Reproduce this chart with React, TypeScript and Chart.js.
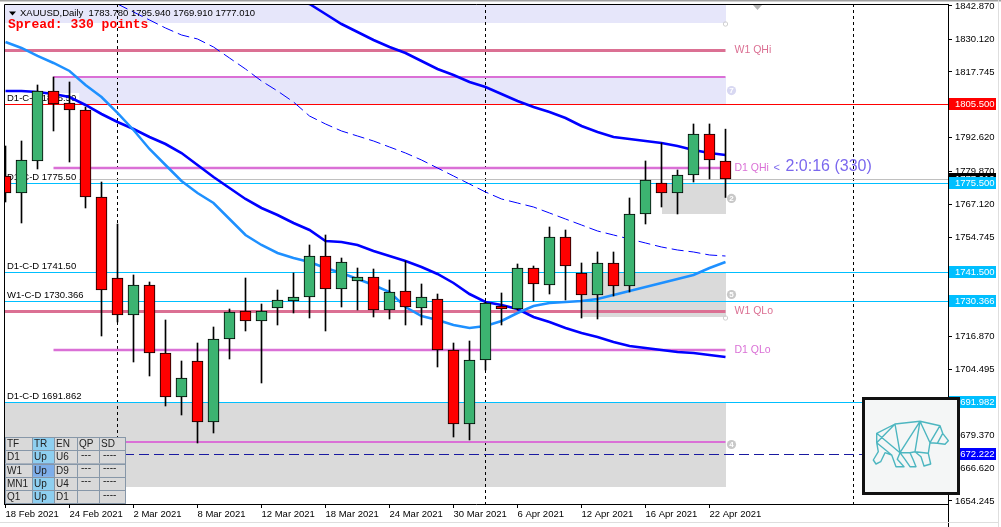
import React, { useEffect, useRef } from "react";
import { Chart, registerables } from "chart.js";

Chart.register(...registerables);

// ---------- DATA ----------
const tradingDays = [
  "18 Feb 2021", "19 Feb 2021", "22 Feb 2021", "23 Feb 2021", "24 Feb 2021", "25 Feb 2021", "26 Feb 2021",
  "1 Mar 2021", "2 Mar 2021", "3 Mar 2021", "4 Mar 2021", "5 Mar 2021", "8 Mar 2021", "9 Mar 2021",
  "10 Mar 2021", "11 Mar 2021", "12 Mar 2021", "15 Mar 2021", "16 Mar 2021", "17 Mar 2021", "18 Mar 2021",
  "19 Mar 2021", "22 Mar 2021", "23 Mar 2021", "24 Mar 2021", "25 Mar 2021", "26 Mar 2021", "29 Mar 2021",
  "30 Mar 2021", "31 Mar 2021", "1 Apr 2021", "5 Apr 2021", "6 Apr 2021", "7 Apr 2021", "8 Apr 2021",
  "9 Apr 2021", "12 Apr 2021", "13 Apr 2021", "14 Apr 2021", "15 Apr 2021", "16 Apr 2021", "19 Apr 2021",
  "20 Apr 2021", "21 Apr 2021", "22 Apr 2021", "23 Apr 2021",
];

const opens = [1778.09, 1771.61, 1783.81, 1810.48, 1805.91, 1803.24, 1770.09, 1739.22, 1725.12, 1736.55, 1710.64, 1693.88, 1707.59, 1684.35, 1715.98, 1726.65, 1722.84, 1727.79, 1730.46, 1731.98, 1747.6, 1735.03, 1738.08, 1739.6, 1727.03, 1734.27, 1727.79, 1731.22, 1711.79, 1683.59, 1707.97, 1728.55, 1727.41, 1743.03, 1736.55, 1754.85, 1741.13, 1732.74, 1744.94, 1736.17, 1763.61, 1775.42, 1771.61, 1778.47, 1794.09, 1783.78];
const highs = [1789.52, 1791.43, 1812.77, 1815.81, 1813.91, 1804.38, 1775.8, 1759.8, 1740.37, 1737.7, 1723.22, 1707.59, 1714.45, 1720.55, 1727.41, 1739.22, 1729.31, 1734.65, 1741.13, 1751.8, 1755.61, 1746.84, 1743.03, 1742.65, 1738.46, 1745.7, 1736.94, 1733.12, 1714.45, 1715.21, 1730.08, 1733.51, 1744.56, 1743.79, 1758.66, 1757.51, 1744.94, 1749.13, 1749.13, 1769.71, 1783.81, 1790.66, 1780.38, 1797.91, 1797.91, 1795.94];
const lows = [1768.18, 1760.18, 1780.76, 1795.24, 1783.42, 1765.9, 1717.12, 1722.46, 1707.21, 1701.88, 1690.45, 1687.02, 1676.35, 1680.16, 1708.36, 1719.03, 1699.21, 1721.31, 1725.88, 1723.98, 1719.03, 1728.17, 1727.03, 1724.36, 1723.6, 1721.31, 1721.31, 1705.31, 1678.63, 1677.49, 1704.16, 1721.31, 1727.03, 1730.46, 1733.12, 1730.84, 1723.98, 1723.6, 1732.36, 1733.89, 1759.8, 1766.28, 1763.61, 1775.8, 1776.95, 1769.91];
const closes = [1771.61, 1784.19, 1810.48, 1805.53, 1803.24, 1770.09, 1734.65, 1725.12, 1736.55, 1710.64, 1693.88, 1701.12, 1684.35, 1715.98, 1726.27, 1722.84, 1726.65, 1730.84, 1731.98, 1747.6, 1735.03, 1745.32, 1739.6, 1727.03, 1733.89, 1728.17, 1731.98, 1711.79, 1683.59, 1707.97, 1729.7, 1727.41, 1743.03, 1736.94, 1754.85, 1743.79, 1732.74, 1744.94, 1736.17, 1763.61, 1776.57, 1771.61, 1778.47, 1794.09, 1784.19, 1777.01];

// moving averages (null = not in view)
const maUpper = [null, null, null, null, null, null, null, null, null, null, null, null, null, null, null, null, 1855.06, 1850.87, 1847.06, 1843.63, 1839.82, 1836.01, 1832.96, 1829.91, 1827.25, 1824.96, 1821.91, 1818.86, 1816.58, 1813.91, 1812.0, 1809.34, 1806.67, 1804.38, 1802.48, 1800.19, 1797.14, 1794.86, 1792.95, 1792.19, 1791.43, 1790.66, 1789.52, 1787.99, 1786.85, 1786.09];
const maLower = [1810.48, 1810.48, 1810.1, 1809.34, 1808.19, 1805.15, 1801.72, 1798.67, 1796.0, 1792.95, 1790.28, 1786.85, 1782.28, 1777.71, 1773.52, 1769.33, 1765.9, 1763.23, 1760.18, 1757.51, 1753.32, 1752.94, 1751.8, 1749.51, 1747.6, 1745.7, 1743.41, 1740.75, 1737.32, 1733.12, 1730.08, 1728.93, 1727.41, 1724.36, 1722.46, 1720.17, 1718.26, 1716.74, 1714.83, 1713.31, 1712.55, 1711.79, 1711.03, 1710.64, 1709.88, 1709.12];
const maFast = [1829.15, 1826.87, 1823.82, 1821.15, 1818.1, 1812.77, 1808.19, 1802.1, 1795.62, 1788.38, 1782.28, 1776.18, 1771.61, 1767.8, 1761.7, 1755.61, 1751.8, 1748.75, 1746.84, 1745.32, 1743.03, 1741.13, 1738.84, 1736.55, 1733.89, 1728.17, 1724.74, 1723.22, 1721.31, 1720.17, 1720.93, 1722.84, 1725.88, 1728.55, 1729.7, 1730.08, 1730.46, 1731.22, 1732.74, 1734.27, 1735.79, 1737.32, 1738.84, 1740.37, 1743.03, 1745.32];
const maLong = [null, null, null, null, null, null, 1846.68, 1843.63, 1840.58, 1837.54, 1834.49, 1831.82, 1830.3, 1827.25, 1823.05, 1818.86, 1814.29, 1810.48, 1806.29, 1800.95, 1797.91, 1795.24, 1793.33, 1791.43, 1789.14, 1786.85, 1784.19, 1781.14, 1778.09, 1775.04, 1771.99, 1769.33, 1767.8, 1766.28, 1763.99, 1761.7, 1759.42, 1757.13, 1755.61, 1754.08, 1752.56, 1751.03, 1749.89, 1749.13, 1747.99, 1747.6];

const xTickIndex = [0, 4, 8, 12, 16, 20, 24, 28, 32, 36, 40, 44];
const yTickValues = [1842.87, 1830.12, 1817.745, 1805.37, 1792.62, 1779.87, 1767.12, 1754.745, 1742.12, 1729.62, 1716.87, 1704.495, 1691.745, 1679.37, 1666.62, 1654.245];
const yMin = 1653.1;
const yMax = 1843.63;

// zones (bar index range, price range)
const zoneFrom = [-1, 3, 41, 36, -1];
const zoneTo = [45, 45, 45, 45, 45];
const zoneHi = [1850, 1815.81, 1775.5, 1741.5, 1691.982];
const zoneLo = [1836.39, 1805.5, 1763.61, 1724.36, 1659.58];
const zoneTag = ["", "7", "2", "5", "4"];
const zoneKind = ["lav", "lav", "gray", "gray", "gray"];

// quarter levels
const qNames = ["W1 QHi", "", "D1 QHi", "W1 QLo", "D1 QLo", ""];
const qValues = [1826.1, 1815.81, 1781.14, 1726.65, 1711.79, 1676.73];
const qFrom = [-1, 3, 3, -1, 3, 3];
const qTf = ["W1", "D1", "D1", "W1", "D1", "D1"];

// C-D levels
const cdValues = [1805.5, 1775.5, 1741.5, 1730.366, 1691.982];
const cdLabels = ["D1-C-D 1805.50", "D1-C-D 1775.50", "D1-C-D 1741.50", "W1-C-D 1730.366", "D1-C-D 1691.862"];
const bidPrice = 1777.01;
const dashedLevel = 1672.222;
const separatorIndex = [7, 30, 53];

const headerText = "XAUUSD,Daily  1783.780 1795.940 1769.910 1777.010";
const spreadText = "Spread: 330 points";
const countdownText = "2:0:16 (330)";

const tableRows = [
  ["TF", "TR", "EN", "QP", "SD"],
  ["D1", "Up", "U6", "---", "----"],
  ["W1", "Up", "D9", "---", "----"],
  ["MN1", "Up", "U4", "---", "----"],
  ["Q1", "Up", "D1", "", "----"],
];

const FONT = '"Liberation Sans", Arial, sans-serif';

const overlay = {
  id: "mt4overlay",
  beforeDatasetsDraw(chart: any) {
    const { ctx, chartArea: a, scales } = chart;
    const X = (v: number) => scales.x.getPixelForValue(v);
    const Y = (v: number) => scales.y.getPixelForValue(v);
    ctx.save();
    ctx.beginPath();
    ctx.rect(a.left, a.top, a.right - a.left, a.bottom - a.top);
    ctx.clip();

    // zones
    for (let i = 0; i < zoneHi.length; i++) {
      const x0 = zoneFrom[i] < 0 ? a.left : X(zoneFrom[i]);
      const x1 = X(zoneTo[i]);
      const y0 = Math.round(Y(zoneHi[i]));
      const y1 = Math.round(Y(zoneLo[i]));
      ctx.fillStyle = zoneKind[i] === "lav" ? "#e6e6fa" : "#dadada";
      ctx.fillRect(Math.round(x0), y0, Math.round(x1) - Math.round(x0), y1 - y0);
    }

    // vertical separators
    ctx.strokeStyle = "#000";
    ctx.lineWidth = 1;
    ctx.setLineDash([3, 3]);
    for (const s of separatorIndex) {
      const x = Math.floor(X(s)) + 0.5;
      ctx.beginPath();
      ctx.moveTo(x, a.top);
      ctx.lineTo(x, a.bottom);
      ctx.stroke();
    }
    ctx.setLineDash([]);

    // bid line
    const hl = (v: number, color: string, x0: number, x1: number, w = 1, dash: number[] = []) => {
      const y = w % 2 === 1 ? Math.round(Y(v)) + 0.5 : Math.round(Y(v));
      ctx.strokeStyle = color;
      ctx.lineWidth = w;
      ctx.setLineDash(dash);
      ctx.beginPath();
      ctx.moveTo(x0, y);
      ctx.lineTo(x1, y);
      ctx.stroke();
      ctx.setLineDash([]);
    };
    hl(bidPrice, "#c0c0c0", a.left, a.right);
    hl(dashedLevel, "#1a1aa0", a.left, a.right, 1, [10, 5]);

    // quarter lines
    for (let i = 0; i < qValues.length; i++) {
      const color = qTf[i] === "W1" ? "#db7093" : "#da70d6";
      const w = qTf[i] === "W1" ? 3 : qNames[i] ? 2.6 : 2;
      const x0 = qFrom[i] < 0 ? a.left : X(qFrom[i]);
      hl(qValues[i], color, x0, X(45), w);
    }

    // C-D lines
    for (let i = 0; i < cdValues.length; i++) {
      hl(cdValues[i], i === 0 ? "#ff0000" : "#00bfff", a.left, a.right);
    }

    // left labels
    ctx.font = "9.5px " + FONT;
    ctx.textBaseline = "middle";
    for (let i = 0; i < cdValues.length; i++) {
      const y = Math.round(Y(cdValues[i]));
      const w = ctx.measureText(cdLabels[i]).width;
      ctx.fillStyle = "#ffffff";
      ctx.fillRect(a.left + 2, y - 11, w + 4, 10);
      ctx.fillStyle = "#000";
      ctx.fillText(cdLabels[i], a.left + 3, y - 5.5);
    }
    ctx.restore();
  },
  afterDatasetsDraw(chart: any) {
    const { ctx, chartArea: a, scales } = chart;
    const X = (v: number) => scales.x.getPixelForValue(v);
    const Y = (v: number) => scales.y.getPixelForValue(v);
    ctx.save();
    ctx.beginPath();
    ctx.rect(a.left, a.top, a.right - a.left, a.bottom - a.top);
    ctx.clip();
    const xEnd = X(45);

    // zone markers
    for (let i = 0; i < zoneHi.length; i++) {
      const yc = (Y(zoneHi[i]) + Y(zoneLo[i])) / 2;
      if (zoneTag[i]) {
        ctx.fillStyle = zoneKind[i] === "lav" ? "#d8d8f2" : "#c8c8c8";
        ctx.beginPath();
        ctx.arc(xEnd + 6, yc, 4.6, 0, Math.PI * 2);
        ctx.fill();
        ctx.fillStyle = "#fff";
        ctx.font = "bold 8px " + FONT;
        ctx.textAlign = "center";
        ctx.textBaseline = "middle";
        ctx.fillText(zoneTag[i], xEnd + 6, yc + 0.5);
        ctx.textAlign = "left";
      }
    }
    // small hollow corner circles
    ctx.strokeStyle = "#d0d0d0";
    ctx.lineWidth = 1;
    for (const v of [zoneLo[0], zoneLo[3]]) {
      ctx.beginPath();
      ctx.arc(xEnd, Y(v) + 1, 2.2, 0, Math.PI * 2);
      ctx.stroke();
    }

    // right quarter labels
    ctx.font = "10.5px " + FONT;
    ctx.textBaseline = "middle";
    for (let i = 0; i < qValues.length; i++) {
      if (!qNames[i]) continue;
      ctx.fillStyle = qTf[i] === "W1" ? "#db7093" : "#da70d6";
      ctx.fillText(qNames[i], xEnd + 9, Y(qValues[i]) + 0.5);
    }
    // countdown
    ctx.fillStyle = "#7b68ee";
    ctx.font = "11px " + FONT;
    ctx.fillText("<", xEnd + 48, Y(qValues[2]));
    ctx.font = "16px " + FONT;
    ctx.fillText(countdownText, xEnd + 60, Y(qValues[2]) - 1.5);

    // shift marker
    ctx.fillStyle = "#b4b4b4";
    const tx = X(47);
    ctx.beginPath();
    ctx.moveTo(tx - 4.5, a.top + 1);
    ctx.lineTo(tx + 4.5, a.top + 1);
    ctx.lineTo(tx, a.top + 6);
    ctx.fill();

    // header
    ctx.fillStyle = "#000";
    ctx.beginPath();
    ctx.moveTo(a.left + 5, a.top + 7.5);
    ctx.lineTo(a.left + 12, a.top + 7.5);
    ctx.lineTo(a.left + 8.5, a.top + 11.5);
    ctx.fill();
    ctx.font = "9.5px " + FONT;
    ctx.textBaseline = "middle";
    ctx.fillText(headerText, a.left + 16, a.top + 9);
    ctx.fillStyle = "#ff0000";
    ctx.font = "bold 13px \"Liberation Mono\", monospace";
    ctx.fillText(spreadText, a.left + 4, a.top + 21);

    // table
    const colX = [0, 27, 49, 72, 94, 120];
    const rowH = 13.3;
    const tLeft = a.left + 1;
    const tTop = a.bottom - 67;
    ctx.font = "10px " + FONT;
    for (let r = 0; r < tableRows.length; r++) {
      for (let c = 0; c < 5; c++) {
        const x0 = tLeft + colX[c];
        const x1 = tLeft + colX[c + 1];
        const y0 = tTop + r * rowH;
        let bg = "#d9d9d9";
        if (c === 1) bg = r === 2 ? "#7eaeea" : "#8ecff0";
        ctx.fillStyle = bg;
        ctx.fillRect(x0, y0, x1 - x0, rowH);
        ctx.strokeStyle = "#8797a8";
        ctx.lineWidth = 1;
        ctx.strokeRect(Math.round(x0) + 0.5, Math.round(y0) + 0.5, Math.round(x1 - x0), Math.round(rowH));
        ctx.fillStyle = "#222";
        const txt = tableRows[r][c];
        const isDash = txt.startsWith("-");
        ctx.fillText(txt, x0 + (isDash ? 4 : 2), y0 + rowH / 2 + (isDash ? -2 : 0.5));
      }
    }
    ctx.restore();
  },
  afterDraw(chart: any) {
    const { ctx, chartArea: a, scales, width, height } = chart;
    const Y = (v: number) => scales.y.getPixelForValue(v);
    ctx.save();
    // plot border left & top
    ctx.strokeStyle = "#000";
    ctx.lineWidth = 1;
    ctx.beginPath();
    ctx.moveTo(a.left + 0.5, a.bottom);
    ctx.lineTo(a.left + 0.5, a.top + 0.5);
    ctx.lineTo(a.right, a.top + 0.5);
    ctx.moveTo(a.right + 0.5, a.bottom);
    ctx.lineTo(a.right + 0.5, height);
    ctx.stroke();

    // axis price boxes
    const boxes = [
      { v: bidPrice, bg: "#000000" },
      { v: cdValues[0], bg: "#ff0000" },
      { v: cdValues[1], bg: "#00bfff" },
      { v: cdValues[2], bg: "#00bfff" },
      { v: cdValues[3], bg: "#00bfff" },
      { v: cdValues[4], bg: "#00bfff" },
      { v: dashedLevel, bg: "#0000ff" },
    ];
    ctx.font = "9.5px " + FONT;
    ctx.textBaseline = "middle";
    for (const b of boxes) {
      const y = Math.round(Y(b.v));
      ctx.fillStyle = b.bg;
      ctx.fillRect(a.right + 1, y - 6, 47, 12);
      ctx.fillStyle = "#fff";
      ctx.fillText(b.v.toFixed(3), a.right + 7, y + 0.5);
    }

    // window frame
    ctx.fillStyle = "#a0a0a0";
    ctx.fillRect(0, 0, width, 1.5);
    ctx.fillStyle = "#dedede";
    ctx.fillRect(width - 3, 0, 1, height);
    ctx.fillRect(0, height - 5, width - 3, 1);

    // logo box
    const bx = a.right - 86;
    const by = 397;
    ctx.fillStyle = "#f4f6f6";
    ctx.fillRect(bx, by, 98, 98);
    ctx.strokeStyle = "#111";
    ctx.lineWidth = 3;
    ctx.strokeRect(bx + 1.5, by + 1.5, 95, 95);
    const outline = [
      [14.7, 36.3], [33, 27], [58, 24.3], [78, 28.7], [80.7, 36.3], [86.3, 43.7], [83, 47.3], [75.3, 46.3],
      [68, 45.7], [66.3, 56.3], [68.7, 67], [62, 69], [59, 59.7], [53, 54.7], [48, 55.7], [51.3, 63],
      [54, 69.7], [48, 69.7], [43, 62.3], [38, 55.7], [35.3, 62.3], [42, 69.7], [34, 69.7], [29.7, 58],
      [23, 55.7], [18.7, 64.7], [14, 67], [11.3, 63], [16.3, 54.7], [14.7, 45.7],
    ];
    const inner = [
      [[33, 27], [38, 55.7]], [[14.7, 36.3], [38, 55.7]], [[58, 24.3], [38, 55.7]], [[58, 24.3], [53, 54.7]],
      [[58, 24.3], [68, 45.7]], [[78, 28.7], [68, 45.7]], [[80.7, 36.3], [75.3, 46.3]], [[14.7, 45.7], [29.7, 58]],
      [[53, 54.7], [66.3, 56.3]], [[38, 55.7], [48, 55.7]], [[14.7, 36.3], [14.7, 45.7]], [[33, 27], [14.7, 45.7]],
    ];
    ctx.strokeStyle = "#4db6c0";
    ctx.lineWidth = 1.4;
    ctx.lineJoin = "round";
    ctx.beginPath();
    outline.forEach((p, i) => (i === 0 ? ctx.moveTo(bx + p[0], by + p[1]) : ctx.lineTo(bx + p[0], by + p[1])));
    ctx.closePath();
    for (const seg of inner) {
      ctx.moveTo(bx + seg[0][0], by + seg[0][1]);
      ctx.lineTo(bx + seg[1][0], by + seg[1][1]);
    }
    ctx.stroke();
    ctx.restore();
  },
};

export default function App() {
  const ref = useRef<HTMLCanvasElement>(null);
  useEffect(() => {
    const idx = closes.map((_, i) => i);
    const bodyColors = idx.map((i) => (closes[i] >= opens[i] ? "#3cb371" : "#ff0000"));
    const lineDs = (arr: (number | null)[], color: string, w: number, order: number, dash: number[] = []) => ({
      type: "line" as const,
      data: arr.map((v, i) => ({ x: i, y: v })),
      borderColor: color,
      borderWidth: w,
      borderDash: dash,
      pointRadius: 0,
      tension: 0,
      fill: false,
      spanGaps: false,
      order,
    });
    const chart = new Chart(ref.current as HTMLCanvasElement, {
      type: "bar",
      data: {
        datasets: [
          {
            type: "bar",
            data: idx.map((i) => ({ x: i, y: [opens[i], closes[i]] })),
            backgroundColor: bodyColors,
            borderColor: "#000",
            borderWidth: 1,
            borderSkipped: false,
            barThickness: 11,
            grouped: false,
            order: 0,
          } as any,
          {
            type: "bar",
            data: idx.map((i) => ({ x: i, y: [lows[i], highs[i]] })),
            backgroundColor: "#000",
            borderWidth: 0,
            barThickness: 1,
            grouped: false,
            order: 1,
          } as any,
          lineDs(maFast, "#1e90ff", 2.5, 2),
          lineDs(maLower, "#0000ff", 2.6, 3),
          lineDs(maUpper, "#0000ff", 2.6, 4),
          lineDs(maLong, "#0000ff", 1, 5, [12, 5]),
        ],
      },
      options: {
        animation: false,
        responsive: false,
        devicePixelRatio: 1,
        events: [],
        layout: { padding: { left: 4, top: 4, right: 0, bottom: 0 }, autoPadding: false } as any,
        plugins: { legend: { display: false }, tooltip: { enabled: false } },
        font: { family: FONT } as any,
        scales: {
          x: {
            type: "linear",
            min: -0.09375,
            max: 58.90625,
            offset: false,
            grid: { display: true, drawOnChartArea: false, drawTicks: true, tickLength: 4, color: "#000", offset: false } as any,
            border: { display: true, color: "#000" },
            afterBuildTicks: (s: any) => {
              s.ticks = xTickIndex.map((v) => ({ value: v }));
            },
            afterFit: (s: any) => {
              s.height = 23;
              s.paddingLeft = 0;
              s.paddingRight = 0;
            },
            ticks: {
              autoSkip: false,
              maxRotation: 0,
              minRotation: 0,
              align: "start",
              padding: 1,
              color: "#000",
              font: { family: FONT, size: 9.5 },
              callback: (v: any) => tradingDays[Number(v)] ?? "",
            },
          } as any,
          y: {
            type: "linear",
            position: "right",
            min: yMin,
            max: yMax,
            grid: { display: true, drawOnChartArea: false, drawTicks: true, tickLength: 4, color: "#000" },
            border: { display: true, color: "#000" },
            afterBuildTicks: (s: any) => {
              s.ticks = yTickValues.map((v) => ({ value: v }));
            },
            afterFit: (s: any) => {
              s.width = 53;
              s.paddingTop = 0;
              s.paddingBottom = 0;
            },
            ticks: {
              autoSkip: false,
              padding: 3,
              color: "#000",
              font: { family: FONT, size: 9.5 },
              callback: (v: any) => Number(v).toFixed(3),
            },
          } as any,
        },
      },
      plugins: [overlay],
    } as any);
    return () => chart.destroy();
  }, []);
  return (
    <div style={{ position: "fixed", left: 0, top: 0, width: 1001, height: 527, background: "#fff" }}>
      <canvas ref={ref} width={1001} height={527} style={{ display: "block" }} />
    </div>
  );
}
